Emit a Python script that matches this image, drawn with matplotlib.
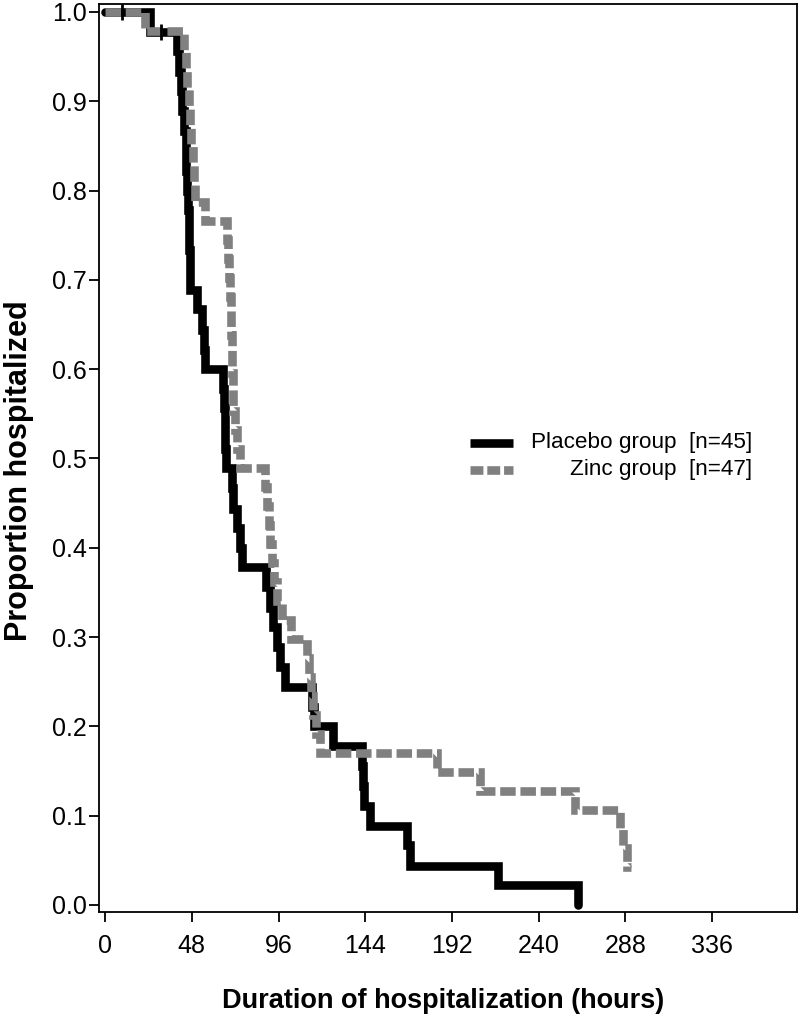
import matplotlib
matplotlib.use('Agg')
import matplotlib.pyplot as plt
from matplotlib.lines import Line2D

plt.rcParams['font.family'] = ['Liberation Sans', 'DejaVu Sans']

# Kaplan-Meier steps (hours, proportion still hospitalized)
placebo_t = [0, 25, 40, 41, 41.8, 42.7, 43.6, 44.5, 45, 45.4, 45.8, 46.2, 46.5, 46.8, 47,
             51, 53.5, 54.5, 55.3, 65.5, 65.8, 66.1, 66.5, 67, 70, 71, 73, 74.5, 76,
             89, 91.4, 93, 95, 97, 99.7, 114.6, 115.5, 126, 142.3, 142.8, 143.3, 146.5,
             167, 169, 217.6, 262]
placebo_s = [1.0, 0.978, 0.956, 0.933, 0.911, 0.889, 0.867, 0.844, 0.822, 0.800, 0.778,
             0.756, 0.733, 0.711, 0.689, 0.667, 0.644, 0.622, 0.600, 0.578, 0.556, 0.533,
             0.511, 0.489, 0.467, 0.444, 0.422, 0.400, 0.378, 0.356, 0.333, 0.311, 0.289,
             0.267, 0.244, 0.222, 0.200, 0.178, 0.156, 0.133, 0.111, 0.089, 0.067, 0.044,
             0.022, 0.0]

zinc_t = [0, 22, 43.5, 44.5, 45.5, 46.5, 47.2, 47.8, 48.4, 49, 49.8, 55.4,
          67.5, 68, 68.5, 69, 69.5, 69.8, 70, 70.3, 70.6, 71, 72, 73, 74.7,
          88.6, 89.5, 90.5, 91.5, 92.5, 93.5, 95, 98, 103, 112, 113, 114, 115, 116.5,
          119, 184, 207.6, 260, 285, 287, 289, 291]
zinc_s = [1.0, 0.979, 0.957, 0.936, 0.915, 0.894, 0.872, 0.851, 0.830, 0.809, 0.787,
          0.766, 0.745, 0.723, 0.702, 0.681, 0.660, 0.638, 0.617, 0.596, 0.574, 0.553,
          0.532, 0.511, 0.489, 0.468, 0.447, 0.426, 0.404, 0.383, 0.362, 0.340, 0.319,
          0.298, 0.277, 0.255, 0.234, 0.213, 0.191, 0.170, 0.149, 0.128, 0.106, 0.085,
          0.064, 0.043, 0.043]

censor_t = [9.4, 31.0]
censor_s = [1.0, 0.978]

x_ticks = [0, 48, 96, 144, 192, 240, 288, 336]
y_ticks = [0.0, 0.1, 0.2, 0.3, 0.4, 0.5, 0.6, 0.7, 0.8, 0.9, 1.0]

labels = ['Placebo group  [n=45]', 'Zinc group  [n=47]']

GRAY = '#808080'
LW = 6.2
DASH = (1.8, 0.55)

fig = plt.figure(figsize=(8, 10.16), dpi=100)
ax = fig.add_axes([0.124, 0.1024, 0.872, 0.8937])

ax.step(placebo_t, placebo_s, where='post', color='black', lw=LW,
        solid_capstyle='round', solid_joinstyle='miter')
ax.step(zinc_t, zinc_s, where='post', color=GRAY, lw=LW, dashes=DASH,
        dash_capstyle='butt', dash_joinstyle='miter')
ax.plot(censor_t, censor_s, ls='none', marker='|', ms=11, mew=2, color='black')

ax.set_xlim(-3.3, 383)
ax.set_ylim(-0.0078, 1.009)
ax.set_xticks(x_ticks)
ax.set_xticklabels([str(t) for t in x_ticks])
ax.set_yticks(y_ticks)
ax.set_yticklabels([f'{v:.1f}' for v in y_ticks])
ax.tick_params(axis='both', direction='out', length=7, width=1.3, labelsize=18)
ax.tick_params(axis='x', pad=9)
ax.tick_params(axis='y', pad=2)
for sp in ax.spines.values():
    sp.set_linewidth(1.3)

ax.set_xlabel('Duration of hospitalization (hours)', fontsize=19.5, fontweight='bold')
ax.set_ylabel('Proportion hospitalized', fontsize=22, fontweight='bold')
ax.xaxis.set_label_coords(0.493, -0.0837)
ax.yaxis.set_label_coords(-0.093, 0.486)

# hand-made legend with right-aligned text, as in the original
ax.add_line(Line2D([0.531, 0.593], [0.5165, 0.5165], transform=ax.transAxes,
                   color='black', lw=LW, solid_capstyle='butt'))
ax.add_line(Line2D([0.531, 0.593], [0.487, 0.487], transform=ax.transAxes,
                   color=GRAY, lw=LW, dashes=(1.5, 0.45), dash_capstyle='butt'))
ax.text(0.9355, 0.5165, labels[0], transform=ax.transAxes, ha='right', va='center',
        fontsize=16.2)
ax.text(0.9355, 0.487, labels[1], transform=ax.transAxes, ha='right', va='center',
        fontsize=16.2)

fig.savefig('out.png', dpi=100)
